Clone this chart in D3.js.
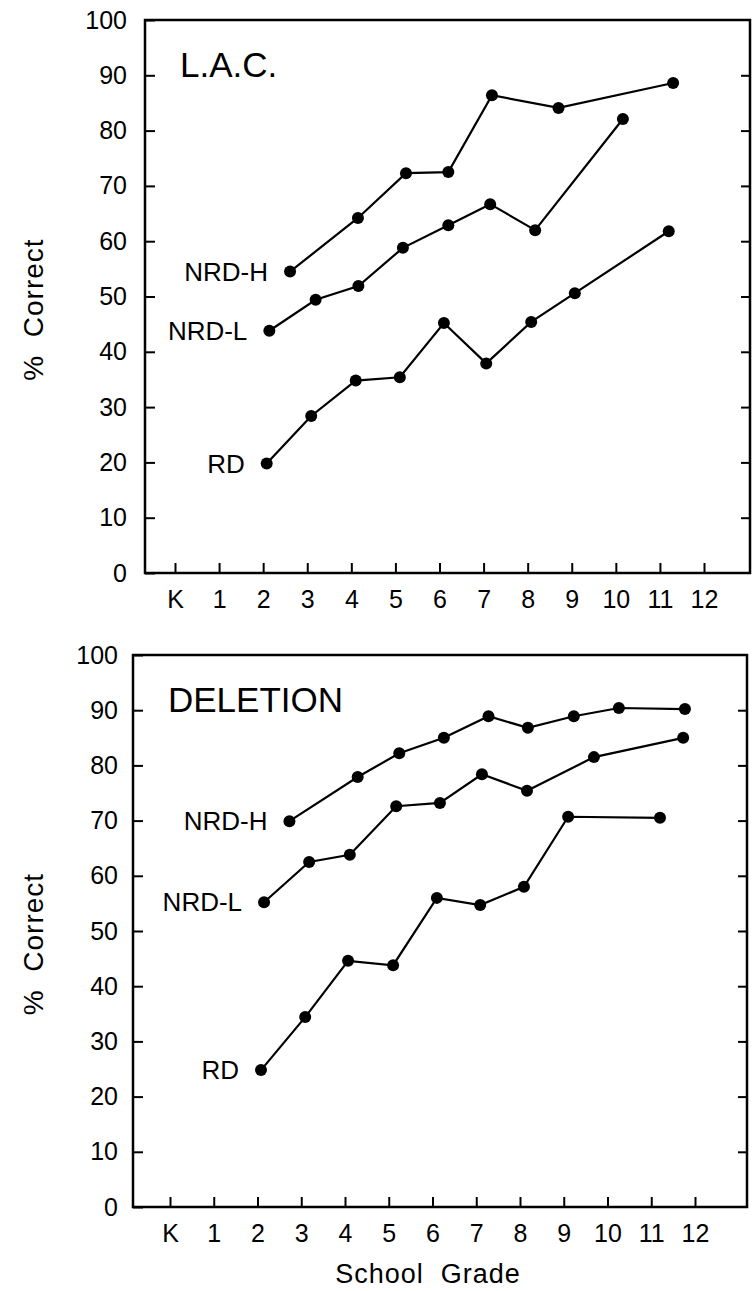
<!DOCTYPE html>
<html>
<head>
<meta charset="utf-8">
<title>L.A.C. and Deletion by School Grade</title>
<script src="https://d3js.org/d3.v7.min.js"></script>
<style>
  body { margin: 0; background: #fff; }
  svg { font-family: "Liberation Sans", Arial, sans-serif; }
  .axis text { font-size: 25px; fill: #000; font-family: "Liberation Sans", Arial, sans-serif; }
  .axis line { stroke: #000; stroke-width: 2px; }
  .series { fill: none; stroke: #000; stroke-width: 2.2px; }
</style>
</head>
<body>
<script>
// tick labels
var gradeTicks = [0, 1, 2, 3, 4, 5, 6, 7, 8, 9, 10, 11, 12];
var gradeNames = ["K", "1", "2", "3", "4", "5", "6", "7", "8", "9", "10", "11", "12"];
var pctTicks = [0, 10, 20, 30, 40, 50, 60, 70, 80, 90, 100];

// L.A.C. panel  [grade position, % correct]
var lacNrdH = [[2.61, 54.5], [4.15, 64.2], [5.24, 72.3], [6.2, 72.5], [7.19, 86.4], [8.7, 84.1], [11.3, 88.6]];
var lacNrdL = [[2.14, 43.8], [3.19, 49.4], [4.16, 51.9], [5.17, 58.8], [6.2, 62.9], [7.15, 66.7], [8.17, 62.0], [10.16, 82.1]];
var lacRd   = [[2.08, 19.8], [3.09, 28.4], [4.1, 34.8], [5.1, 35.4], [6.1, 45.2], [7.06, 37.9], [8.08, 45.4], [9.07, 50.6], [11.2, 61.8]];

// DELETION panel
var delNrdH = [[2.73, 69.9], [4.29, 77.9], [5.24, 82.2], [6.26, 85.0], [7.28, 88.9], [8.18, 86.8], [9.23, 88.9], [10.26, 90.4], [11.77, 90.2]];
var delNrdL = [[2.15, 55.2], [3.18, 62.5], [4.11, 63.8], [5.17, 72.6], [6.17, 73.2], [7.13, 78.4], [8.16, 75.4], [9.69, 81.5], [11.73, 85.0]];
var delRd   = [[2.08, 24.8], [3.09, 34.4], [4.07, 44.6], [5.1, 43.8], [6.1, 56.0], [7.09, 54.7], [8.09, 58.0], [9.1, 70.7], [11.2, 70.5]];

var seriesNames = ["NRD-H", "NRD-L", "RD"];

var svg = d3.select("body").append("svg")
    .attr("width", 752)
    .attr("height", 1291);

// one panel
function drawPanel(opt) {
  var x = d3.scaleLinear().domain([0, 12]).range([opt.x0, opt.x12]);
  var y = d3.scaleLinear().domain([0, 100]).range([opt.bottom, opt.top]);
  var g = svg.append("g");

  // frame
  g.append("path")
      .attr("d", "M" + opt.left + "," + opt.top + "V" + opt.bottom + "H" + opt.right + "V" + opt.top + "Z")
      .attr("fill", "none")
      .attr("stroke", "#000")
      .attr("stroke-width", 2.5);

  // left axis, ticks pointing inward
  g.append("g")
      .attr("class", "axis")
      .attr("transform", "translate(" + opt.left + ",0)")
      .call(d3.axisLeft(y).tickValues(pctTicks).tickSize(-10).tickPadding(opt.yPad))
      .call(function(a) { a.select(".domain").remove(); });

  // right axis, ticks only
  g.append("g")
      .attr("class", "axis")
      .attr("transform", "translate(" + opt.right + ",0)")
      .call(d3.axisRight(y).tickValues(pctTicks.slice(1, -1)).tickSize(-9).tickFormat(""))
      .call(function(a) { a.select(".domain").remove(); });

  // bottom axis
  g.append("g")
      .attr("class", "axis")
      .attr("transform", "translate(0," + opt.bottom + ")")
      .call(d3.axisBottom(x).tickValues(gradeTicks).tickSize(-10).tickPadding(17)
        .tickFormat(function(d, i) { return gradeNames[i]; }))
      .call(function(a) { a.select(".domain").remove(); });

  // y title
  g.append("text")
      .attr("transform", "translate(" + opt.yTitleX + "," + ((opt.top + opt.bottom) / 2 + 13) + ") rotate(-90)")
      .attr("text-anchor", "middle")
      .attr("dominant-baseline", "central")
      .style("font-size", "28px")
      .style("letter-spacing", "1px")
      .style("white-space", "pre")
      .text("%  Correct");

  // panel title
  g.append("text")
      .attr("x", opt.titleX)
      .attr("y", y(opt.titleY))
      .attr("dominant-baseline", "central")
      .style("font-size", "35px")
      .text(opt.title);

  var line = d3.line()
      .x(function(d) { return x(d[0]); })
      .y(function(d) { return y(d[1]); });

  opt.series.forEach(function(s, i) {
    g.append("path")
        .attr("class", "series")
        .attr("d", line(s));
    g.selectAll(null)
        .data(s)
      .enter().append("circle")
        .attr("cx", function(d) { return x(d[0]); })
        .attr("cy", function(d) { return y(d[1]); })
        .attr("r", 6)
        .attr("fill", "#000");
    g.append("text")
        .attr("x", x(s[0][0]) - 22)
        .attr("y", y(s[0][1]))
        .attr("text-anchor", "end")
        .attr("dominant-baseline", "central")
        .style("font-size", "26px")
        .text(seriesNames[i]);
  });
}

drawPanel({
  left: 145, right: 750, top: 20, bottom: 573,
  x0: 175, x12: 704, yPad: 18, yTitleX: 33,
  title: "L.A.C.", titleX: 180, titleY: 92,
  series: [lacNrdH, lacNrdL, lacRd]
});

drawPanel({
  left: 133, right: 747, top: 655, bottom: 1207,
  x0: 170, x12: 695, yPad: 15, yTitleX: 33,
  title: "DELETION", titleX: 168, titleY: 92,
  series: [delNrdH, delNrdL, delRd]
});

// x title
svg.append("text")
    .attr("x", 428)
    .attr("y", 1274)
    .attr("text-anchor", "middle")
    .attr("dominant-baseline", "central")
    .style("font-size", "27px")
    .style("letter-spacing", "1px")
    .style("white-space", "pre")
    .text("School  Grade");
</script>
</body>
</html>
